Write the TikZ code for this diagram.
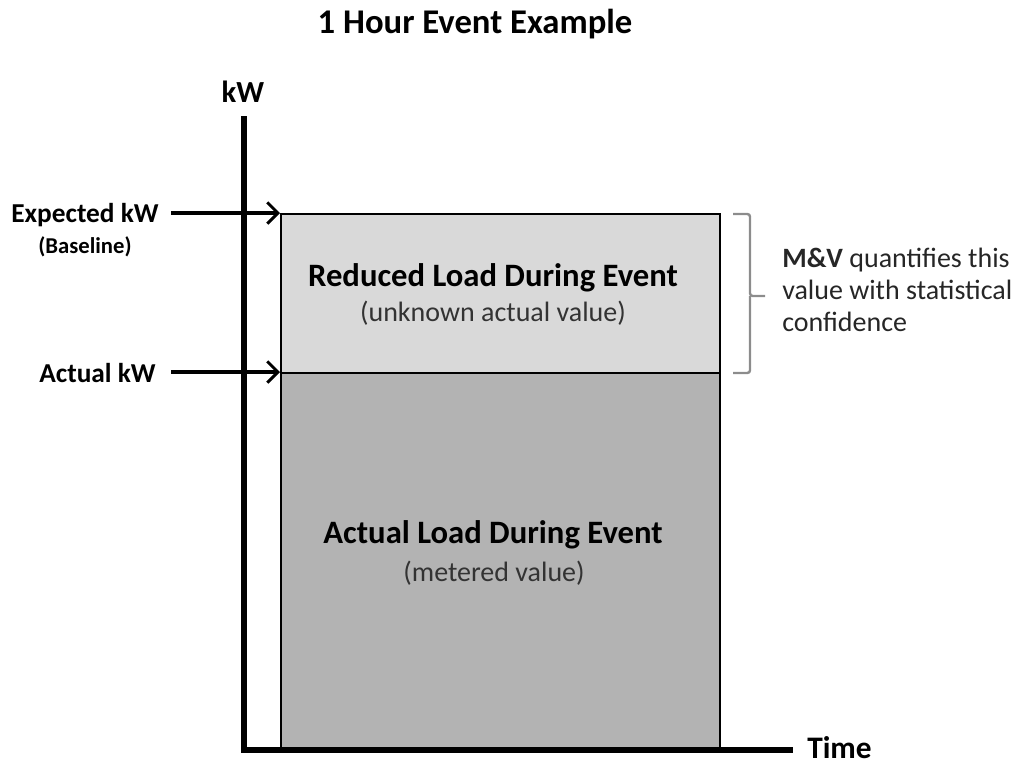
\documentclass[tikz,border=0pt]{standalone}
\usepackage{fontspec}
\setmainfont{Carlito}
\usetikzlibrary{arrows.meta}
\definecolor{reducedfill}{HTML}{D9D9D9}
\definecolor{actualfill}{HTML}{B3B3B3}
\definecolor{bracegray}{HTML}{8C8C8C}
\tikzset{
  px/.style={x=0.75pt,y=-0.75pt},
  axisline/.style={line width=4pt,line cap=rect},
  loadbox/.style={draw=black,line width=1.2pt,inner sep=0pt,anchor=north west},
  levelarrow/.style={line width=2.6pt,-{Straight Barb[length=8pt,width=16pt,line width=2.2pt]}},
  boldlbl/.style={font=\fontsize{20.5}{24}\selectfont\bfseries,inner sep=0pt},
  smalllbl/.style={font=\fontsize{17}{20}\selectfont\bfseries,inner sep=0pt},
  boxtitle/.style={font=\fontsize{24.5}{28}\selectfont\bfseries,inner sep=0pt},
  boxnote/.style={font=\fontsize{21}{24}\selectfont,text=black!80,inner sep=0pt},
  bracestyle/.style={draw=bracegray,line width=1.8pt,rounded corners=2pt},
}
\begin{document}
\begin{tikzpicture}[px]
\useasboundingbox (0,0) rectangle (1020,764);

% title
\node[inner sep=0pt,font=\fontsize{26}{30}\selectfont\bfseries,anchor=base] (title) at (475,33) {1 Hour Event Example};

% stacked load boxes
\node[loadbox,fill=reducedfill,minimum width=439*0.75pt,minimum height=159*0.75pt] (reduced) at (280,213) {};
\node[loadbox,fill=actualfill,minimum width=439*0.75pt,minimum height=375*0.75pt] (actual) at (280,372) {};

% axes
\coordinate (origin) at (244,750);
\coordinate (ytop) at (244,119);
\coordinate (xend) at (790,750);
\draw[axisline] (ytop) -- (origin) -- (xend);
\node[inner sep=0pt,font=\fontsize{23}{26}\selectfont\bfseries] (kw) at (243,92) {kW};
\node[inner sep=0pt,font=\fontsize{23.5}{26}\selectfont\bfseries,anchor=base west] (time) at (807,758) {Time};

% level labels and arrows
\node[boldlbl,anchor=east] (expected) at (159,215) {Expected kW};
\node[smalllbl] (baseline) at (85,247) {(Baseline)};
\node[boldlbl,anchor=east] (actualkw) at (156,373) {Actual kW};
\coordinate (expstart) at (171,213);
\coordinate (actstart) at (171,372);
\draw[levelarrow] (expstart) -- (reduced.north west);
\draw[levelarrow] (actstart) -- (actual.north west);

% box texts
\node[boxtitle] (redtitle) at (493,278) {Reduced Load During Event};
\node[boxnote] (rednote) at (493,313) {(unknown actual value)};
\node[boxtitle] (acttitle) at (493,535) {Actual Load During Event};
\node[boxnote] (actnote) at (494,573) {(metered value)};

% brace and note
\coordinate (bt) at (733,214);
\coordinate (bb) at (733,373);
\coordinate (bm) at (765,296);
\draw[bracestyle] (bt) -- (750,214) -- (750,296) -- (bm);
\draw[bracestyle] (750,296) -- (750,373) -- (bb);
\node[anchor=west,align=left,inner sep=0pt,font=\fontsize{21}{24}\selectfont,text=black!85] (mv) at (782,290)
  {\textbf{M\&V} quantifies this\\value with statistical\\confidence};
\end{tikzpicture}
\end{document}
